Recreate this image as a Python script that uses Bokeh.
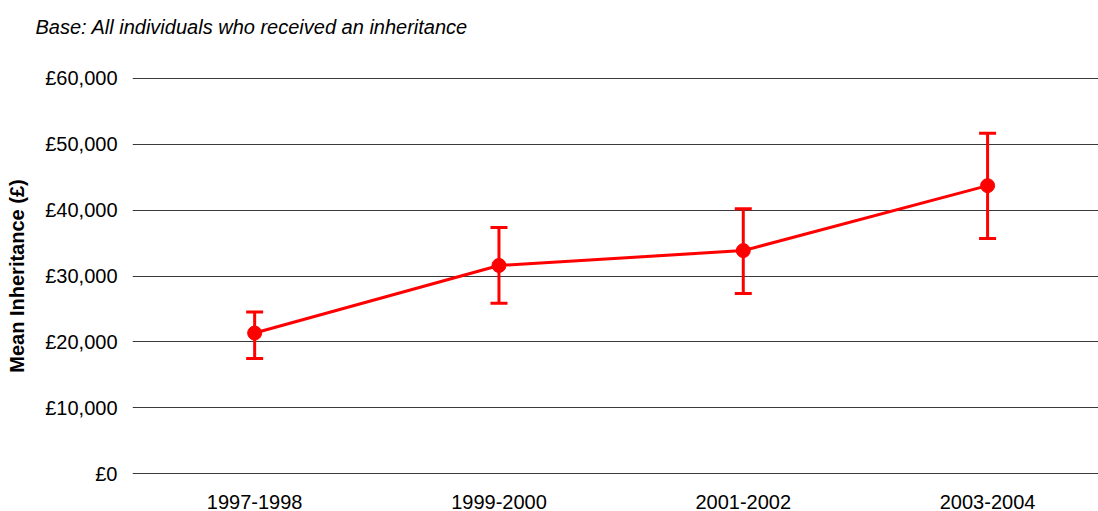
from bokeh.plotting import figure
from bokeh.models import ColumnDataSource, Range1d, FixedTicker, Whisker, TeeHead, Title
from bokeh.embed import file_html
from bokeh.resources import INLINE

# Data
periods = ["1997-1998", "1999-2000", "2001-2002", "2003-2004"]
mean_inheritance = [21350, 31600, 33850, 43700]
upper_bound = [24550, 37350, 40200, 51650]
lower_bound = [17500, 25850, 27350, 35700]
y_ticks = [0, 10000, 20000, 30000, 40000, 50000, 60000]
y_tick_labels = ["£0", "£10,000", "£20,000", "£30,000", "£40,000", "£50,000", "£60,000"]
subtitle = "Base: All individuals who received an inheritance"

xpos = [i + 0.5 for i in range(len(periods))]
src = ColumnDataSource(dict(x=xpos, y=mean_inheritance, up=upper_bound, lo=lower_bound))

FONT = "Liberation Sans"
RED = "#ff0000"

p = figure(width=1098, height=511, output_backend="svg", toolbar_location=None,
           x_range=Range1d(0, 3.954), y_range=Range1d(-100, 60100),
           min_border_left=132, min_border_right=0, min_border_top=77, min_border_bottom=36)
p.outline_line_color = None

# spacer panel next to the frame, then the subtitle above it
p.add_layout(Title(text=" ", text_font=FONT, text_font_size="20px", standoff=6), "above")
p.add_layout(Title(text=subtitle, text_font=FONT, text_font_style="italic",
                   text_font_size="20px", text_color="#000000", align="left",
                   offset=-97, standoff=20), "above")

# Grid
p.xgrid.grid_line_color = None
p.ygrid.grid_line_color = "#3a3a3a"
p.ygrid.grid_line_width = 1
p.ygrid.ticker = FixedTicker(ticks=y_ticks)

# Y axis
p.yaxis.ticker = FixedTicker(ticks=y_ticks)
p.yaxis.major_label_overrides = {t: lab for t, lab in zip(y_ticks, y_tick_labels)}
p.yaxis.axis_line_color = None
p.yaxis.major_tick_line_color = None
p.yaxis.major_tick_out = 0
p.yaxis.major_tick_in = 0
p.yaxis.minor_tick_line_color = None
p.yaxis.major_label_text_font = FONT
p.yaxis.major_label_text_font_size = "20px"
p.yaxis.major_label_text_color = "#000000"
p.yaxis.major_label_standoff = 15
p.yaxis.axis_label = "Mean Inheritance (£)"
p.yaxis.axis_label_text_font = FONT
p.yaxis.axis_label_text_font_style = "bold"
p.yaxis.axis_label_text_font_size = "20px"
p.yaxis.axis_label_text_color = "#000000"
p.yaxis.axis_label_standoff = 14

# X axis
p.xaxis.ticker = FixedTicker(ticks=xpos)
p.xaxis.major_label_overrides = {x: lab for x, lab in zip(xpos, periods)}
p.xaxis.axis_line_color = None
p.xaxis.major_tick_line_color = None
p.xaxis.major_tick_out = 0
p.xaxis.major_tick_in = 0
p.xaxis.minor_tick_line_color = None
p.xaxis.major_label_text_font = FONT
p.xaxis.major_label_text_font_size = "20px"
p.xaxis.major_label_text_color = "#000000"
p.xaxis.major_label_standoff = 20

# Error bars
w = Whisker(source=src, base="x", upper="up", lower="lo", dimension="height",
            line_color=RED, line_width=3,
            upper_head=TeeHead(size=17, line_color=RED, line_width=3),
            lower_head=TeeHead(size=17, line_color=RED, line_width=3))
p.add_layout(w)

p.line("x", "y", source=src, line_color=RED, line_width=3)
p.scatter("x", "y", source=src, size=14, fill_color=RED, line_color=RED)

open("out.html", "w").write(file_html(p, INLINE))
